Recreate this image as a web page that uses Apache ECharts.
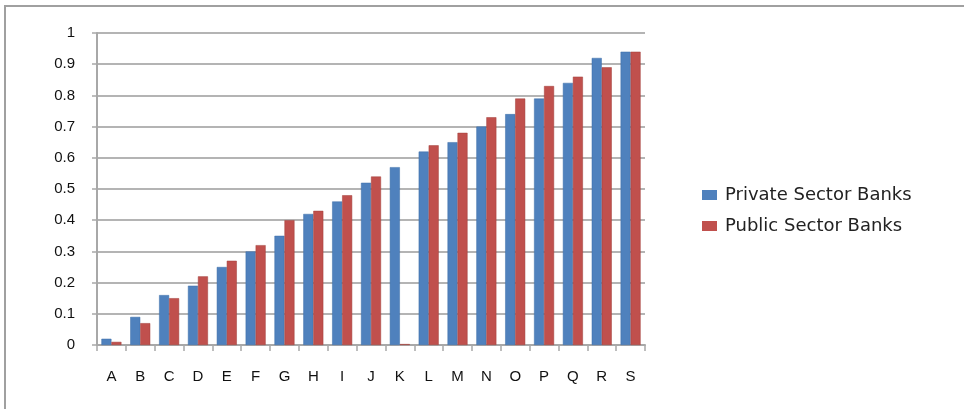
<!DOCTYPE html>
<html>
<head>
<meta charset="utf-8">
<script src="https://cdn.jsdelivr.net/npm/echarts@6/dist/echarts.min.js"></script>
<style>
  html, body { margin: 0; padding: 0; background: #fff; }
  #frame { position: absolute; left: 4px; top: 5px; width: 970px; height: 420px;
           border-left: 2px solid #a0a0a0; border-top: 2px solid #a0a0a0; }
  #main { position: absolute; left: 0; top: 0; width: 964px; height: 409px; }
</style>
</head>
<body>
<div id="frame"></div>
<div id="main"></div>
<script>
// 类别和数值
const categories = ['A','B','C','D','E','F','G','H','I','J','K','L','M','N','O','P','Q','R','S'];
const privateBanks = [0.02,0.09,0.16,0.19,0.25,0.30,0.35,0.42,0.46,0.52,0.57,0.62,0.65,0.70,0.74,0.79,0.84,0.92,0.94];
const publicBanks  = [0.01,0.07,0.15,0.22,0.27,0.32,0.40,0.43,0.48,0.54,0.003,0.64,0.68,0.73,0.79,0.83,0.86,0.89,0.94];
const yTicks = ['0','0.1','0.2','0.3','0.4','0.5','0.6','0.7','0.8','0.9','1'];

var myChart = echarts.init(document.getElementById('main'));

var option = {
  animation: false,
  grid: { left: 97, top: 33, right: 319, bottom: 64 },
  legend: {
    orient: 'vertical',
    left: 697, top: 181,
    itemWidth: 15, itemHeight: 10, itemGap: 13,
    icon: 'rect',
    itemStyle: { borderWidth: 0 },
    textStyle: { fontFamily: 'DejaVu Sans', fontSize: 18, color: '#222', padding: [0, 0, 0, 3] },
    data: ['Private Sector Banks', 'Public Sector Banks']
  },
  xAxis: {
    type: 'category',
    data: categories,
    axisLine: { lineStyle: { color: '#a8a8a8', width: 2 } },
    axisTick: { show: true, alignWithLabel: false, length: 6, lineStyle: { color: '#a8a8a8', width: 1.5 } },
    axisLabel: { margin: 24, fontFamily: 'Liberation Sans', fontSize: 15, color: '#111' }
  },
  yAxis: {
    type: 'value',
    min: 0, max: 1, interval: 0.1,
    axisLine: { show: true, lineStyle: { color: '#a8a8a8', width: 2 } },
    axisTick: { show: true, length: 5, lineStyle: { color: '#a8a8a8', width: 1.5 } },
    splitLine: { lineStyle: { color: '#b4b4b4', width: 2 } },
    axisLabel: {
      margin: 22, fontFamily: 'Liberation Sans', fontSize: 15, color: '#111',
      formatter: function (v) { return yTicks[Math.round(v * 10)]; }
    }
  },
  series: [
    {
      name: 'Private Sector Banks', type: 'bar', data: privateBanks,
      barWidth: 10, barGap: '0%',
      itemStyle: { color: '#4f81bd', borderColor: '#3d6ea8', borderWidth: 0.5 }
    },
    {
      name: 'Public Sector Banks', type: 'bar', data: publicBanks,
      barWidth: 10,
      itemStyle: { color: '#c0504d', borderColor: '#a03e3b', borderWidth: 0.5 }
    }
  ]
};

myChart.setOption(option);
</script>
</body>
</html>
